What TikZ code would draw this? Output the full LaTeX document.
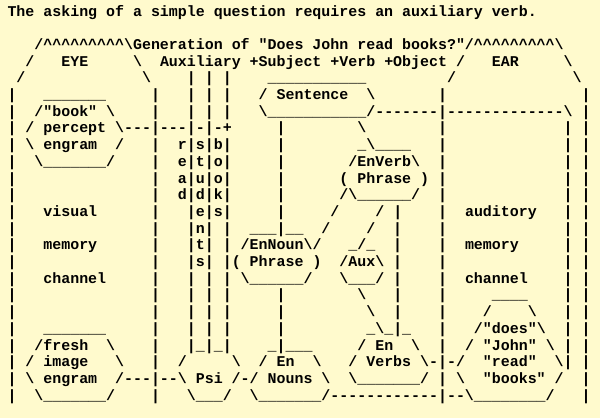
\documentclass[tikz,border=0pt]{standalone}
\usepackage{fontspec}
\setmonofont{Liberation Mono}
\definecolor{paper}{RGB}{255,250,205}
\begingroup
\catcode`\^=12
\catcode`\_=12
\catcode`\"=12
\catcode`\!=0
\catcode`\\=12
!catcode`! =13%
!gdef {!phantom{0}}%
!gdef!rowa{The asking of a simple question requires an auxiliary verb.}%
!gdef!rowc{   /^^^^^^^^^\Generation of "Does John read books?"/^^^^^^^^^\}%
!gdef!rowd{  /   EYE     \  Auxiliary +Subject +Verb +Object /   EAR     \}%
!gdef!rowe{ /             \    | | |    ___________         /             \}%
!gdef!rowf{|   _______     |   | | |   / Sentence  \       |               |}%
!gdef!rowg{|  /"book" \    |   | | |   \___________/-------|-------------\ |}%
!gdef!rowh{| / percept \---|---|-|-+     |        \        |             | |}%
!gdef!rowi{| \ engram  /   |  r|s|b|     |        _\____   |             | |}%
!gdef!rowj{|  \_______/    |  e|t|o|     |       /EnVerb\  |             | |}%
!gdef!rowk{|               |  a|u|o|     |      ( Phrase ) |             | |}%
!gdef!rowl{|               |  d|d|k|     |      /\______/  |             | |}%
!gdef!rowm{|   visual      |   |e|s|     |     /    / |    |  auditory   | |}%
!gdef!rown{|               |   |n| |  ___|__  /    /  |    |             | |}%
!gdef!rowo{|   memory      |   |t| | /EnNoun\/   _/_  |    |  memory     | |}%
!gdef!rowp{|               |   |s| |( Phrase )  /Aux\ |    |             | |}%
!gdef!rowq{|   channel     |   | | | \______/   \___/ |    |  channel    | |}%
!gdef!rowr{|               |   | | |     |        \   |    |     ____    | |}%
!gdef!rows{|               |   | | |     |         \  |    |    /    \   | |}%
!gdef!rowt{|   _______     |   | | |     |         _\_|_   |   /"does"\  | |}%
!gdef!rowu{|  /fresh  \    |   |_|_|    _|___     / En  \  |  / "John" \ | |}%
!gdef!rowv{| / image   \   |  /     \  / En  \   / Verbs \-|-/  "read"  \| |}%
!gdef!roww{| \ engram  /---|--\ Psi /-/ Nouns \  \_______/ | \  "books" /  |}%
!gdef!rowx{|  \_______/    |   \___/  \_______/------------|--\________/   |}%
!endgroup
\begin{document}
\begin{tikzpicture}[x=1pt,y=-1pt,
  asciirow/.style={anchor=base west,inner sep=0pt,outer sep=0pt,
    font=\ttfamily\bfseries\fontsize{14.95}{16.7}\selectfont}]
\fill[paper] (0,0) rectangle (600,418);
\useasboundingbox (0,0) rectangle (600,418);
\node[asciirow] (r0) at (7.5,16) {\rowa};
\node[asciirow] (r2) at (7.5,49.4) {\rowc};
\node[asciirow] (r3) at (7.5,66.1) {\rowd};
\node[asciirow] (r4) at (7.5,82.8) {\rowe};
\node[asciirow] (r5) at (7.5,99.5) {\rowf};
\node[asciirow] (r6) at (7.5,116.2) {\rowg};
\node[asciirow] (r7) at (7.5,132.9) {\rowh};
\node[asciirow] (r8) at (7.5,149.6) {\rowi};
\node[asciirow] (r9) at (7.5,166.3) {\rowj};
\node[asciirow] (r10) at (7.5,183.0) {\rowk};
\node[asciirow] (r11) at (7.5,199.7) {\rowl};
\node[asciirow] (r12) at (7.5,216.4) {\rowm};
\node[asciirow] (r13) at (7.5,233.1) {\rown};
\node[asciirow] (r14) at (7.5,249.8) {\rowo};
\node[asciirow] (r15) at (7.5,266.5) {\rowp};
\node[asciirow] (r16) at (7.5,283.2) {\rowq};
\node[asciirow] (r17) at (7.5,299.9) {\rowr};
\node[asciirow] (r18) at (7.5,316.6) {\rows};
\node[asciirow] (r19) at (7.5,333.3) {\rowt};
\node[asciirow] (r20) at (7.5,350.0) {\rowu};
\node[asciirow] (r21) at (7.5,366.7) {\rowv};
\node[asciirow] (r22) at (7.5,383.4) {\roww};
\node[asciirow] (r23) at (7.5,400.1) {\rowx};
\end{tikzpicture}
\end{document}
